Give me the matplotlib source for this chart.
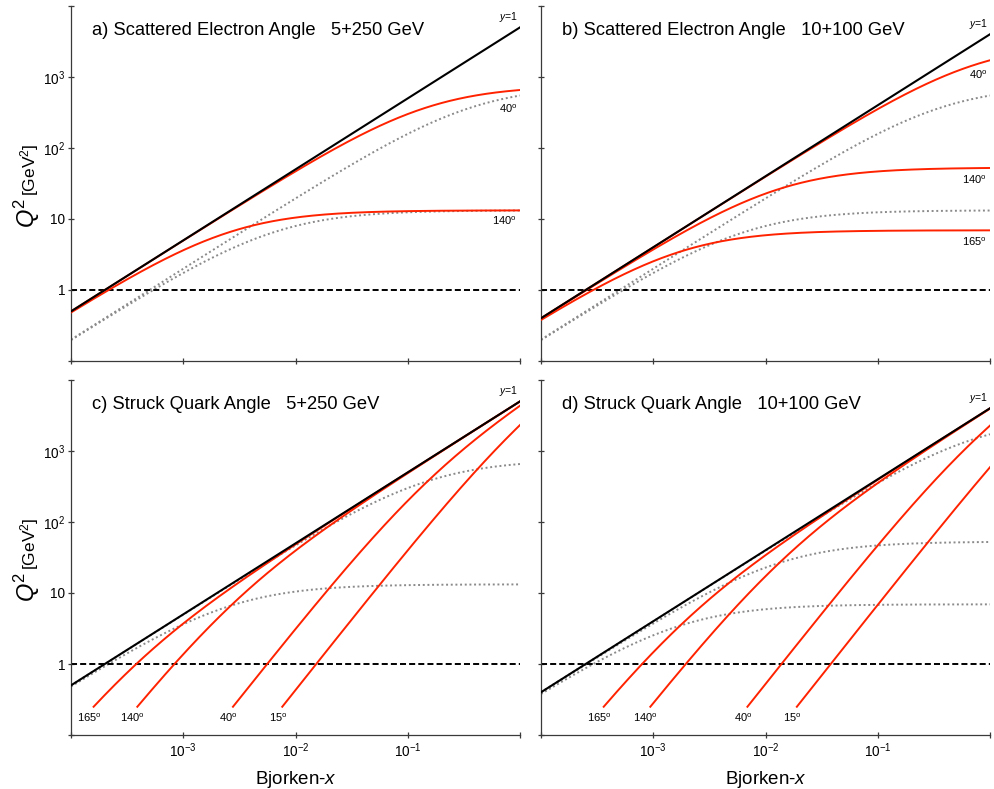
import numpy as np
import matplotlib
matplotlib.use("Agg")
import matplotlib.pyplot as plt
from matplotlib.ticker import FixedLocator, FixedFormatter, NullLocator

plt.rcParams["font.family"] = ["Liberation Sans", "DejaVu Sans"]
plt.rcParams["mathtext.fontset"] = "custom"
plt.rcParams["mathtext.rm"] = "Liberation Sans"
plt.rcParams["mathtext.it"] = "Liberation Sans:italic"
plt.rcParams["mathtext.bf"] = "Liberation Sans:bold"

# ---- chart data -------------------------------------------------------
panel_titles = [
    "a) Scattered Electron Angle   5+250 GeV",
    "b) Scattered Electron Angle   10+100 GeV",
    "c) Struck Quark Angle   5+250 GeV",
    "d) Struck Quark Angle   10+100 GeV",
]
# (electron energy, proton energy) in GeV
panel_beams = [(5, 250), (10, 100), (5, 250), (10, 100)]
panel_kind = ["electron", "electron", "quark", "quark"]
# angles (deg) of the solid red iso-angle lines
panel_red_angles = [[40, 140], [40, 140, 165], [165, 140, 40, 15], [165, 140, 40, 15]]
# grey dotted electron iso-angle lines: beam and angles
panel_dotted_beams = [(5, 100), (5, 100), (5, 250), (10, 100)]
panel_dotted_angles = [[40, 140], [40, 140], [40, 140], [40, 140, 165]]
quark_q2_min = 0.25  # quark lines start here (GeV^2)

x_range = (1e-4, 1.0)
y_range = (0.1, 1e4)
x_ticks = [1e-4, 1e-3, 1e-2, 1e-1, 1.0]
x_tick_labels = ["", r"$10^{-3}$", r"$10^{-2}$", r"$10^{-1}$", ""]
y_ticks = [0.1, 1, 10, 100, 1000, 1e4]
y_tick_labels = ["", "1", "10", r"$10^{2}$", r"$10^{3}$", ""]

RED = "#ff2200"
GREY = "#8a8a8a"


# ---- DIS kinematics -----------------------------------------------------
def q2_y1(x, ee, ep):
    return 4.0 * ee * ep * x


def q2_electron(x, ee, ep, theta_deg):
    s = 4.0 * ee * ep
    a = 4.0 * ee**2 / np.tan(np.radians(theta_deg) / 2.0) ** 2
    return a * s * x / (s * x + a)


def q2_quark(x, ee, ep, gamma_deg):
    s = 4.0 * ee * ep
    b = 4.0 * ee**2 / np.tan(np.radians(gamma_deg) / 2.0) ** 2
    return (s * x) ** 2 / (b + s * x)


def quark_x_start(ee, ep, gamma_deg, q2min):
    s = 4.0 * ee * ep
    b = 4.0 * ee**2 / np.tan(np.radians(gamma_deg) / 2.0) ** 2
    sx = (q2min + np.sqrt(q2min**2 + 4.0 * q2min * b)) / 2.0
    return sx / s


# ---- figure layout --------------------------------------------------------
W, H = 995, 789
fig = plt.figure(figsize=(W / 100, H / 100), dpi=100)

lefts = [71, 541, 71, 541]
tops = [6, 6, 380, 380]
aw, ah = 449, 355

# label offsets (pixels) for the right-hand electron labels
right_label_dy = {0: [-19, -10], 1: [-15, -12, -11]}

xs = np.geomspace(*x_range, 600)

for i in range(4):
    ax = fig.add_axes([lefts[i] / W, 1 - (tops[i] + ah) / H, aw / W, ah / H])
    ee, ep = panel_beams[i]
    ax.set_xscale("log")
    ax.set_yscale("log")
    ax.set_xlim(*x_range)
    ax.set_ylim(*y_range)

    # dotted reference lines
    dee, dep = panel_dotted_beams[i]
    for ang in panel_dotted_angles[i]:
        ax.plot(xs, q2_electron(xs, dee, dep, ang), color=GREY, lw=1.4,
                linestyle=(0, (1, 1.4)), zorder=2)

    # Q^2 = 1 line
    ax.axhline(1.0, color="black", lw=1.4, linestyle=(0, (3.1, 1.6)), zorder=2)

    if panel_kind[i] == "electron":
        for k, ang in enumerate(panel_red_angles[i]):
            q = q2_electron(xs, ee, ep, ang)
            ax.plot(xs, q, color=RED, lw=1.4, zorder=3)
            ax.annotate(r"%d$^{\mathrm{o}}$" % ang, xy=(xs[-1], q[-1]),
                        xytext=(-3, right_label_dy[i][k]), textcoords="offset pixels",
                        ha="right", va="center", fontsize=8)
    else:
        for ang in panel_red_angles[i]:
            x0 = quark_x_start(ee, ep, ang, quark_q2_min)
            xq = np.geomspace(x0, x_range[1], 400)
            ax.plot(xq, q2_quark(xq, ee, ep, ang), color=RED, lw=1.4, zorder=3)
            ax.annotate(r"%d$^{\mathrm{o}}$" % ang, xy=(x0, quark_q2_min),
                        xytext=(-4.5, -11), textcoords="offset pixels",
                        ha="center", va="center", fontsize=8)

    # y = 1 kinematic limit
    qy = q2_y1(xs, ee, ep)
    ax.plot(xs, qy, color="black", lw=1.5, zorder=4)
    ax.annotate(r"$y$=1", xy=(xs[-1], qy[-1]), xytext=(-2, 3),
                textcoords="offset pixels", ha="right", va="bottom", fontsize=7.5)

    ax.text(0.047, 0.918, panel_titles[i], transform=ax.transAxes,
            ha="left", va="baseline", fontsize=13.2)

    # axes styling
    for side in ("top", "right"):
        ax.spines[side].set_visible(False)
    for side in ("left", "bottom"):
        ax.spines[side].set_color("#3a3a3a")
        ax.spines[side].set_linewidth(0.9)
    ax.xaxis.set_major_locator(FixedLocator(x_ticks))
    ax.yaxis.set_major_locator(FixedLocator(y_ticks))
    ax.xaxis.set_minor_locator(NullLocator())
    ax.yaxis.set_minor_locator(NullLocator())
    ax.tick_params(which="major", direction="inout", length=4.5, width=0.9,
                   color="#3a3a3a", labelsize=9.8, pad=2)
    if i >= 2:
        ax.xaxis.set_major_formatter(FixedFormatter(x_tick_labels))
        ax.set_xlabel(r"Bjorken-$x$", fontsize=13.5, labelpad=7)
    else:
        ax.xaxis.set_major_formatter(FixedFormatter([""] * len(x_ticks)))
    if i % 2 == 0:
        ax.yaxis.set_major_formatter(FixedFormatter(y_tick_labels))
    else:
        ax.yaxis.set_major_formatter(FixedFormatter([""] * len(y_ticks)))

    # y-axis title on the left column
    if i % 2 == 0:
        base_x = 35 / W
        fig.text(base_x, 1 - (tops[i] + 222) / H, r"$Q^{2}$", rotation=90,
                 rotation_mode="anchor", ha="left", va="baseline", fontsize=17)
        fig.text(base_x, 1 - (tops[i] + 190) / H, "[GeV$^{2}$]", rotation=90,
                 rotation_mode="anchor", ha="left", va="baseline", fontsize=12.5)

fig.savefig("out.png", dpi=100)
